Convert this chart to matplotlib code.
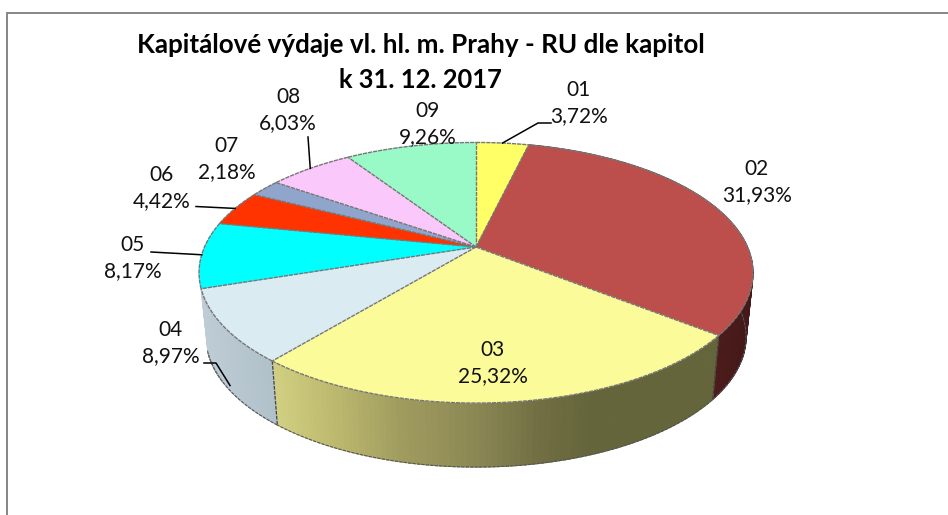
import numpy as np
import matplotlib
matplotlib.use("Agg")
import matplotlib.pyplot as plt
from matplotlib.collections import PolyCollection
from matplotlib.patches import Polygon

# ---- data ----
chapters = ["01", "02", "03", "04", "05", "06", "07", "08", "09"]
shares = [3.72, 31.93, 25.32, 8.97, 8.17, 4.42, 2.18, 6.03, 9.26]
share_labels = ["3,72%", "31,93%", "25,32%", "8,97%", "8,17%", "4,42%", "2,18%", "6,03%", "9,26%"]
top_colors = ["#FFFF66", "#BC4F4C", "#FBFB99", "#DAEBF1", "#00FFFF", "#FF3300", "#8FA5CC", "#FAC8FA", "#99FAC8"]
title_lines = ["Kapitálové výdaje vl. hl. m. Prahy - RU dle kapitol", "k 31. 12. 2017"]

# ---- layout (pixels) ----
W, H = 948, 515
CX, CY, A, B, K = 476.0, 247.0, 271.5, 125.2, 0.1977
BOT_CY, BOT_SCALE = 311.0, 0.975
label_pos = {"01": (579, 103), "02": (757, 182), "03": (493, 363), "04": (171, 343), "05": (133, 258),
             "06": (162, 188), "07": (227, 159), "08": (288, 110), "09": (428, 124)}
leader_pts = {"01": [(551, 123), (538, 123)], "04": [(204, 363), (216, 363)], "05": [(151, 252)],
              "06": [(196, 206.5)], "08": [(308, 137)]}
LABEL_FONT = "Lato"


def top_xy(theta):
    u, v = np.sin(theta), np.cos(theta)
    w = 1 + K * v
    return CX + A * u / w, CY - B * v / w


def bot_xy(theta):
    u, v = np.sin(theta), np.cos(theta)
    w = 1 + K * v
    return CX + BOT_SCALE * A * u / w, BOT_CY - B * v / w


def lerp_stops(x, xs, cs):
    return tuple(np.interp(x, xs, [c[i] for c in cs]) / 255 for i in range(3))


def side_color(i, x):
    if i == 1:
        return lerp_stops(x, [710, 755], [(78, 28, 28), (66, 24, 24)])
    if i == 2:
        return lerp_stops(x, [278, 330, 400, 474, 540, 590],
                          [(208, 206, 128), (190, 187, 112), (160, 156, 95), (140, 136, 84), (112, 110, 66), (101, 101, 60)])
    if i == 3:
        return lerp_stops(x, [205, 279], [(190, 205, 213), (176, 192, 200)])
    return (0.5, 0.5, 0.5)


fig = plt.figure(figsize=(W / 100, H / 100), dpi=100, facecolor="white")
ax = fig.add_axes([0, 0, 1, 1])
ax.set_xlim(0, W)
ax.set_ylim(H, 0)
ax.axis("off")

# outer frame: left and top only are visible
ax.plot([7.5, 7.5, W], [H, 13, 13], color="#868686", lw=1.4, solid_joinstyle="miter", zorder=1)

edges = np.radians(np.concatenate([[0], np.cumsum(shares)]) * 3.6)

# side wall of the visible slices
for i in (1, 2, 3):
    t = np.linspace(edges[i], edges[i + 1], 90)
    polys, cols = [], []
    for a, b in zip(t[:-1], t[1:]):
        xa, ya = top_xy(a)
        xb, yb = top_xy(b)
        xc, yc = bot_xy(b)
        xd, yd = bot_xy(a)
        polys.append([(xa, ya), (xb, yb), (xc, yc), (xd, yd)])
        cols.append(side_color(i, (xa + xb + xc + xd) / 4))
    ax.add_collection(PolyCollection(polys, facecolors=cols, edgecolors=cols, linewidths=0.8, zorder=2))
    # dark outline of the wall's lower rim
    bx, by = bot_xy(t)
    ax.plot(bx, by, color="#555555", lw=0.8, ls=(0, (3, 1)), zorder=3)

# vertical seams on the wall
for i in (2, 3):
    xa, ya = top_xy(edges[i])
    xb, yb = bot_xy(edges[i])
    ax.plot([xa, xb], [ya, yb], color="#444444", lw=0.9, ls=(0, (3, 1)), zorder=3)

# left wall silhouette
t = np.linspace(edges[3] + 0.35, edges[4] + 0.02, 20)
bx, by = bot_xy(t)
ax.plot(bx, by, color="#666666", lw=0.8, ls=(0, (3, 1)), zorder=3)

# top face
for i, c in enumerate(top_colors):
    t = np.linspace(edges[i], edges[i + 1], 120)
    x, y = top_xy(t)
    pts = np.column_stack([np.r_[CX, x], np.r_[CY, y]])
    ax.add_patch(Polygon(pts, closed=True, facecolor=c, edgecolor=c, lw=0.3, zorder=4))
for i in range(len(shares)):
    t = np.linspace(edges[i], edges[i + 1], 120)
    x, y = top_xy(t)
    ax.plot(x, y, color="#777777", lw=1.0, ls=(0, (3, 0.7)), zorder=5)
    ax.plot([CX, x[0]], [CY, y[0]], color="#777777", lw=1.0, ls=(0, (3, 0.7)), zorder=5)

# leader lines, ending on the rim at each slice's middle angle
mids = (edges[:-1] + edges[1:]) / 2
for i, name in enumerate(chapters):
    if name not in leader_pts:
        continue
    ex, ey = bot_xy(mids[i]) if name == "04" else top_xy(mids[i])
    if name == "04":
        ey -= 5
    px = [p[0] for p in leader_pts[name]] + [ex]
    py = [p[1] for p in leader_pts[name]] + [ey]
    ax.plot(px, py, color="black", lw=1.1, zorder=6)

# labels
for name, pct in zip(chapters, share_labels):
    lx, ly = label_pos[name]
    ax.text(lx, ly - 13, name, ha="center", va="center", fontsize=15, family=LABEL_FONT, color="#111111", zorder=7)
    ax.text(lx, ly + 13, pct, ha="center", va="center", fontsize=15, family=LABEL_FONT, color="#111111", zorder=7)

# title
ax.text(421, 45, title_lines[0], ha="center", va="center", fontsize=18.7, fontweight="bold", family=LABEL_FONT, color="black", zorder=7)
ax.text(420, 80, title_lines[1], ha="center", va="center", fontsize=18.4, fontweight="bold", family=LABEL_FONT, color="black", zorder=7)

fig.savefig("out.png", dpi=100, facecolor="white")
